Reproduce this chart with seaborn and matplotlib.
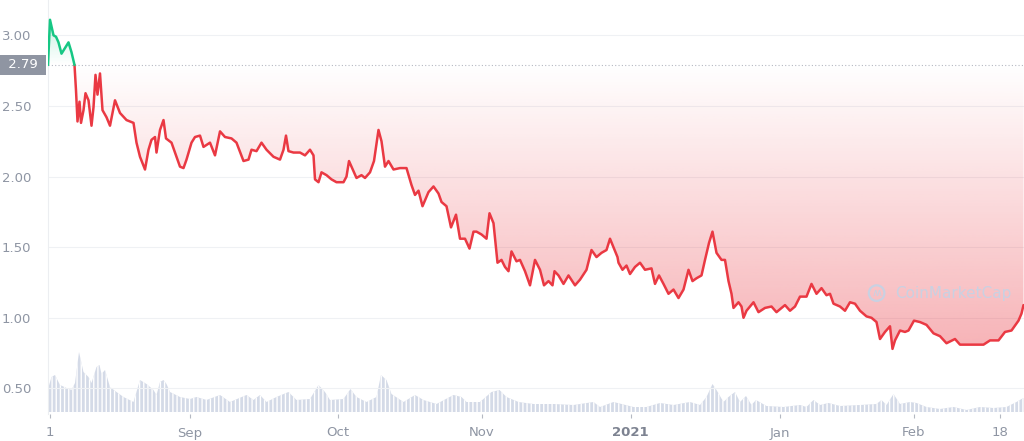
import matplotlib
matplotlib.use("Agg")
import matplotlib.pyplot as plt
import seaborn as sns
import pandas as pd
import numpy as np

## price data (days since start, USD)
days = [0.0, 0.4, 1.1, 1.6, 2.1, 2.7, 3.4, 4.1, 4.7, 5.3, 5.6, 5.9, 6.3, 6.6, 7.1, 7.5, 8.1, 8.7,
        9.1, 9.5, 9.9, 10.4, 10.9, 11.7, 12.4, 13.4, 14.4, 15.7, 17.1, 17.7, 18.4, 19.4, 20.1, 20.7,
        21.4, 21.7, 22.4, 23.1, 23.6, 24.7, 25.7, 26.4, 27.1, 27.7, 28.7, 29.4, 30.4, 31.1, 32.4, 33.4,
        34.4, 35.4, 36.7, 37.7, 39.1, 40.1, 40.7, 41.7, 42.7, 43.7, 45.1, 46.4, 47.1, 47.6, 48.1, 49.1,
        50.4, 51.4, 52.4, 53.1, 53.4, 54.1, 54.7, 55.7, 56.7, 57.7, 59.1, 59.7, 60.2, 60.7, 61.7, 62.7,
        63.4, 64.4, 65.2, 66.1, 66.7, 67.4, 68.1, 69.1, 70.4, 71.7, 72.7, 73.4, 74.1, 74.9, 76.1, 77.1,
        78.1, 78.7, 79.7, 80.6, 81.6, 82.4, 83.4, 84.3, 85.1, 85.7, 86.7, 87.7, 88.3, 89.1, 89.9, 90.7,
        91.4, 92.1, 92.7, 93.7, 94.4, 95.4, 96.4, 97.4, 98.4, 99.2, 100.1, 100.9, 101.3, 102.1, 103.1,
        104.1, 105.4, 106.4, 107.7, 108.7, 109.7, 110.7, 111.7, 112.4, 113.2, 113.9, 114.1, 114.9,
        115.7, 116.4, 117.4, 118.4, 119.4, 120.7, 121.4, 122.2, 123.1, 124.1, 125.1, 126.1, 127.1,
        128.1, 128.9, 129.7, 130.7, 131.4, 132.2, 132.9, 133.7, 134.7, 135.4, 136.1, 136.7, 137.1,
        138.1, 138.7, 139.1, 139.7, 141.1, 142.1, 143.4, 144.7, 145.7, 147.4, 148.4, 149.4, 150.4,
        151.7, 152.7, 153.7, 154.7, 155.7, 156.4, 157.1, 158.4, 159.4, 160.4, 161.4, 162.4, 163.7,
        164.7, 165.7, 166.4, 167.4, 168.4, 168.9, 169.4, 170.4, 171.4, 172.1, 173.2, 174.4, 175.7,
        177.1, 178.4, 179.7, 181.4, 182.4, 184.4, 185.7, 187.1, 188.4, 190.1, 191.4, 192.7, 194.1,
        194.7, 195.1]
price = [2.79, 3.11, 3.00, 2.99, 2.95, 2.87, 2.91, 2.95, 2.88, 2.79, 2.61, 2.39, 2.53, 2.38, 2.47, 2.59, 2.54, 2.36,
         2.49, 2.72, 2.58, 2.73, 2.47, 2.42, 2.36, 2.54, 2.45, 2.40, 2.38, 2.24, 2.14, 2.05, 2.19, 2.26,
         2.28, 2.17, 2.33, 2.40, 2.27, 2.24, 2.14, 2.07, 2.06, 2.12, 2.24, 2.28, 2.29, 2.21, 2.24, 2.15,
         2.32, 2.28, 2.27, 2.24, 2.11, 2.12, 2.19, 2.18, 2.24, 2.19, 2.14, 2.12, 2.19, 2.29, 2.18, 2.17,
         2.17, 2.15, 2.19, 2.15, 1.98, 1.96, 2.03, 2.01, 1.98, 1.96, 1.96, 2.00, 2.11, 2.07, 1.99, 2.01,
         1.99, 2.03, 2.11, 2.33, 2.25, 2.07, 2.11, 2.05, 2.06, 2.06, 1.94, 1.87, 1.90, 1.79, 1.89, 1.93,
         1.88, 1.82, 1.79, 1.64, 1.73, 1.56, 1.56, 1.49, 1.61, 1.61, 1.59, 1.56, 1.74, 1.67, 1.39, 1.41,
         1.36, 1.33, 1.47, 1.40, 1.41, 1.33, 1.23, 1.41, 1.34, 1.23, 1.26, 1.23, 1.33, 1.30, 1.24,
         1.30, 1.23, 1.27, 1.34, 1.48, 1.43, 1.46, 1.48, 1.56, 1.49, 1.43, 1.39, 1.34,
         1.37, 1.31, 1.36, 1.39, 1.34, 1.35, 1.24, 1.30, 1.24, 1.17, 1.20, 1.14, 1.20,
         1.34, 1.26, 1.28, 1.30, 1.41, 1.53, 1.61, 1.46, 1.41, 1.41, 1.26, 1.17, 1.07,
         1.11, 1.08, 1.00, 1.05, 1.11, 1.04, 1.07, 1.08, 1.04, 1.09, 1.05, 1.08, 1.15,
         1.15, 1.24, 1.17, 1.21, 1.16, 1.17, 1.10, 1.08, 1.05, 1.11, 1.10, 1.05, 1.01,
         1.00, 0.97, 0.85, 0.90, 0.94, 0.78, 0.84, 0.91, 0.90, 0.91, 0.98, 0.97, 0.95,
         0.89, 0.87, 0.82, 0.85, 0.81, 0.81, 0.81, 0.81, 0.84, 0.84, 0.90, 0.91, 0.98,
         1.03, 1.09]

## volume (relative units)
vol_days = [0.0, 0.7, 1.4, 2.4, 3.7, 4.7, 5.4, 6.2, 7.1, 8.1, 8.7, 9.7, 10.3, 10.7, 11.4, 12.4, 13.7,
            15.1, 17.1, 18.4, 19.7, 21.1, 21.7, 22.4, 23.1, 23.7, 24.4, 26.4, 28.4, 29.7, 31.7, 34.4,
            36.4, 39.7, 41.1, 42.4, 43.7, 45.7, 48.1, 49.7, 52.4, 54.1, 55.4, 56.4, 59.1, 60.5, 61.7,
            63.7, 65.7, 66.6, 67.7, 68.7, 71.1, 73.4, 75.1, 77.7, 81.1, 82.7, 83.7, 86.4, 88.7, 90.3,
            91.7, 94.1, 97.1, 101.1, 105.1, 109.1, 110.4, 113.1, 117.1, 119.7, 122.4, 125.1, 128.4,
            130.4, 131.7, 132.9, 133.7, 135.1, 136.1, 137.4, 138.4, 139.6, 140.7, 141.6, 143.7, 147.1,
            150.4, 151.7, 153.1, 154.4, 156.1, 158.4, 162.4, 165.7, 166.7, 167.7, 169.1, 170.4, 172.4,
            173.7, 175.7, 178.4, 181.1, 183.7, 186.4, 189.1, 191.7, 193.7, 194.7, 195.1]
volume = [23, 35, 37, 27, 24, 22, 29, 60, 40, 35, 29, 45, 47, 38, 42, 25, 20,
          15, 10, 32, 28, 22, 17, 30, 32, 28, 20, 15, 13, 15, 12, 17,
          10, 17, 12, 17, 10, 15, 20, 12, 13, 27, 20, 12, 13, 23, 15,
          10, 15, 37, 32, 18, 10, 17, 12, 8, 17, 15, 10, 10, 20, 22,
          15, 10, 8, 8, 7, 10, 5, 10, 5, 5, 9, 7, 10,
          7, 15, 28, 22, 10, 15, 20, 10, 16, 7, 12, 6, 5,
          7, 5, 12, 7, 9, 6, 7, 8, 12, 7, 18, 8, 10,
          9, 5, 3, 5, 2, 5, 4, 5, 10, 13, 14]

yticks = [0.5, 1.0, 1.5, 2.0, 2.5, 3.0]
xtick_days = [0.3, 28.3, 57.9, 86.7, 116.5, 146.3, 173.1, 190.4]
xtick_labels = ["1", "Sep", "Oct", "Nov", "2021", "Jan", "Feb", "18"]
open_price = 2.79

RED = "#ea3943"
GREEN = "#16c784"
GRAY = "#8e95a3"

df = pd.DataFrame({"day": days, "price": price})
df_vol = pd.DataFrame({"day": vol_days, "volume": volume})
split = df.index[df["day"] <= 5.3].max()
df_up = df.iloc[:split + 1]
df_down = df.iloc[split:]

sns.set_theme(style="white")
plt.rcParams["font.family"] = ["DejaVu Sans"]

fig = plt.figure(figsize=(10.24, 4.41), dpi=100)
ax = fig.add_axes([48 / 1024, 27 / 441, 976 / 1024, 414 / 441])
xmin, xmax = 0, 195.2
ymin, ymax = 0.319, 3.25

## volume on a twin axis
ax2 = ax.twinx()
ax2.fill_between(df_vol["day"], df_vol["volume"], 0, facecolor="#d4dae7", edgecolor="white",
                 hatch="||||", linewidth=0, zorder=1)
ax2.set_ylim(-2, 412)
ax2.set_yticks([])
for s in ax2.spines.values():
    s.set_visible(False)
ax.set_zorder(ax2.get_zorder() + 1)
ax.patch.set_visible(False)

## gradient fills between price and opening price
grad_red = np.zeros((256, 2, 4))
grad_red[..., :3] = matplotlib.colors.to_rgb(RED)
grad_red[..., 3] = np.linspace(0.42, 0.0, 256)[:, None]
poly = ax.fill_between(df_down["day"], df_down["price"], open_price, color="none")
im = ax.imshow(grad_red, extent=[xmin, xmax, 0.6, open_price], aspect="auto", origin="lower", zorder=1)
im.set_clip_path(poly.get_paths()[0], transform=ax.transData)

grad_green = np.zeros((256, 2, 4))
grad_green[..., :3] = matplotlib.colors.to_rgb(GREEN)
grad_green[..., 3] = np.linspace(0.0, 0.25, 256)[:, None]
poly_g = ax.fill_between(df_up["day"], df_up["price"], open_price, color="none")
im_g = ax.imshow(grad_green, extent=[xmin, xmax, open_price, 3.12], aspect="auto", origin="lower", zorder=1)
im_g.set_clip_path(poly_g.get_paths()[0], transform=ax.transData)

## price line
sns.lineplot(data=df_down, x="day", y="price", color=RED, linewidth=1.8, estimator=None, ax=ax, zorder=3)
sns.lineplot(data=df_up, x="day", y="price", color=GREEN, linewidth=1.8, estimator=None, ax=ax, zorder=3)

ax.axhline(open_price, color="#b5b9c2", linestyle=(0, (1, 2)), linewidth=0.8, zorder=2)
for t in yticks:
    ax.axhline(t, color="#eff1f4", linewidth=0.8, zorder=0)

ax.set_xlim(xmin, xmax)
ax.set_ylim(ymin, ymax)
ax.set_yticks(yticks)
ax.set_yticklabels([f"{t:.2f}" for t in yticks], color=GRAY, fontsize=9.5)
ax.tick_params(axis="y", length=0, pad=12)
ax.set_xticks(xtick_days)
ax.set_xticklabels(xtick_labels, color=GRAY, fontsize=9.5)
ax.tick_params(axis="x", length=3, width=0.8, color="#b5b9c2", pad=6, bottom=True)
for lab in ax.get_xticklabels():
    if lab.get_text() == "2021":
        lab.set_fontweight("bold")
        lab.set_color("#7d8391")
ax.set_xlabel("")
ax.set_ylabel("")
for name, s in ax.spines.items():
    s.set_visible(name == "left")
ax.spines["left"].set_color("#eceef1")
ax.spines["left"].set_linewidth(0.8)

## current price tag
ax.text(-0.006, open_price, f" {open_price:.2f} ", transform=ax.get_yaxis_transform(),
        ha="right", va="center", color="white", fontsize=9.5,
        bbox=dict(boxstyle="square,pad=0.3", fc="#8f95a2", ec="none"))

## watermark
wm = "#c9d1e2"
ax.text(0.849, 0.292, "ʍ", transform=ax.transAxes, fontsize=8, color=wm, ha="center", va="center", zorder=2,
        bbox=dict(boxstyle="circle,pad=0.25", fc="none", ec=wm, lw=1.6))
ax.text(0.868, 0.292, "CoinMarketCap", transform=ax.transAxes, fontsize=11, color=wm,
        ha="left", va="center", zorder=2)

plt.savefig("out.png", dpi=100)
